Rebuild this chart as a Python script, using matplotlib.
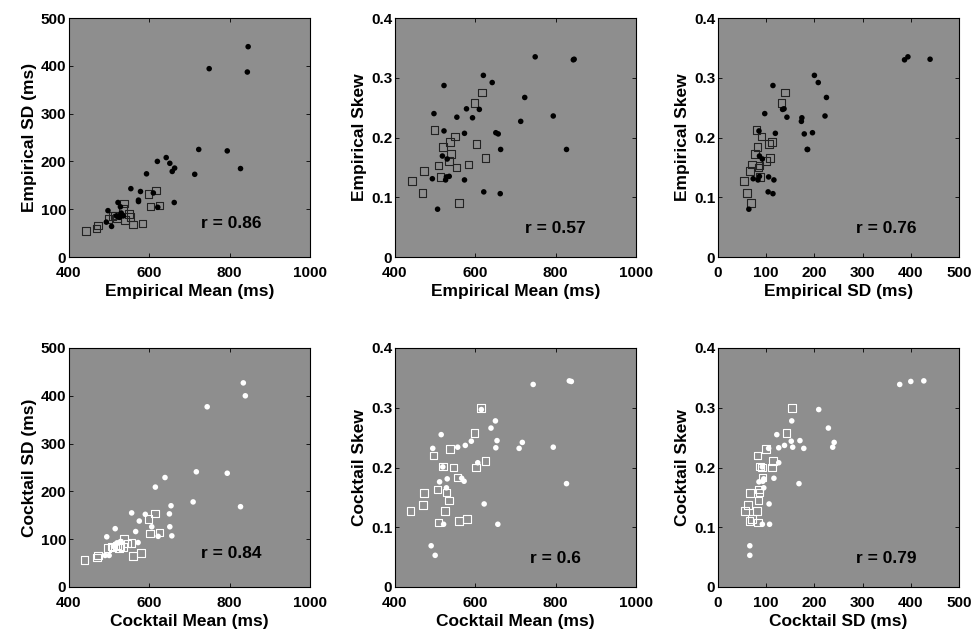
import matplotlib
matplotlib.use('Agg')
import matplotlib.pyplot as plt
import numpy as np

plt.rcParams['font.family'] = ['Liberation Sans', 'DejaVu Sans']
plt.rcParams['font.weight'] = 'bold'

# ---- empirical data: filled dots ----
emp_dot_mean = [493, 497, 506, 518, 522, 522, 526, 528, 530, 535, 554, 573, 573, 578, 593,
                610, 620, 621, 642, 651, 657, 662, 663, 713, 723, 749, 794, 827, 844, 846]
emp_dot_sd = [73, 97, 64, 86, 114, 85, 83, 105, 92, 86, 143, 119, 116, 137, 174,
              134, 200, 104, 208, 196, 179, 114, 186, 173, 225, 394, 222, 185, 387, 440]
emp_dot_skew = [.131, .240, .080, .169, .287, .211, .129, .134, .164, .135, .234, .207, .129, .248, .233,
                .247, .304, .109, .292, .208, .206, .106, .180, .227, .267, .335, .236, .180, .330, .331]

# ---- empirical data: open squares ----
emp_sq_mean = [442, 468, 472, 498, 508, 513, 520, 537, 540, 535, 549, 553, 560, 583, 598, 603, 616, 625]
emp_sq_sd = [54, 60, 66, 80, 86, 87, 82, 112, 77, 100, 90, 84, 68, 70, 132, 106, 139, 108]
emp_sq_skew = [.127, .107, .144, .213, .153, .134, .184, .192, .172, .161, .202, .150, .090, .155,
               .258, .189, .275, .166]

# ---- cocktail model: filled dots ----
ck_dot_mean = [744, 834, 839, 615, 650, 639, 515, 717, 794, 709, 654, 494, 556, 575, 590,
               651, 606, 519, 566, 530, 511, 572, 528, 622, 827, 521, 656, 490, 500]
ck_dot_sd = [377, 427, 400, 209, 153, 229, 122, 241, 238, 178, 170, 105, 155, 138, 152,
             126, 126, 92, 116, 95, 85, 93, 95, 106, 168, 92, 107, 66, 66]
ck_dot_skew = [.339, .345, .344, .297, .278, .266, .255, .242, .234, .232, .245, .232, .234, .237, .244,
               .233, .208, .201, .182, .181, .176, .177, .166, .139, .173, .105, .105, .069, .053]

# ---- cocktail model: open squares ----
ck_sq_mean = [439, 469, 472, 496, 506, 508, 519, 528, 525, 535, 537, 546, 556, 559, 579, 598, 614, 602, 625]
ck_sq_sd = [56, 62, 66, 82, 85, 83, 87, 86, 81, 84, 100, 91, 92, 65, 71, 142, 154, 112, 114]
ck_sq_skew = [.127, .137, .157, .220, .163, .108, .202, .158, .127, .145, .231, .200, .183, .110, .114,
              .258, .300, .200, .211]

r_values = ['0.86', '0.57', '0.76', '0.84', '0.6', '0.79']

bg = '#8e8e8e'
fig = plt.figure(figsize=(9.74, 6.36), dpi=100)

lefts = [69 / 974, 395 / 974, 718 / 974]
bottoms = [1 - 257 / 636, 1 - 587 / 636]
w, h = 241 / 974, 239 / 636

rows = [
    dict(dots=(emp_dot_mean, emp_dot_sd, emp_dot_skew), sqs=(emp_sq_mean, emp_sq_sd, emp_sq_skew),
         name='Empirical', col='k', sqedge='#222222'),
    dict(dots=(ck_dot_mean, ck_dot_sd, ck_dot_skew), sqs=(ck_sq_mean, ck_sq_sd, ck_sq_skew),
         name='Cocktail', col='white', sqedge='white'),
]

# panel definitions: (x index, y index, xlim, ylim, xticks, yticks, xlabel, ylabel)
panels = [
    (0, 1, (400, 1000), (0, 500), [400, 600, 800, 1000], [0, 100, 200, 300, 400, 500], 'Mean (ms)', 'SD (ms)'),
    (0, 2, (400, 1000), (0, 0.4), [400, 600, 800, 1000], [0, 0.1, 0.2, 0.3, 0.4], 'Mean (ms)', 'Skew'),
    (1, 2, (0, 500), (0, 0.4), [0, 100, 200, 300, 400, 500], [0, 0.1, 0.2, 0.3, 0.4], 'SD (ms)', 'Skew'),
]
r_pos = [(0.675, 0.14), (0.667, 0.12), (0.70, 0.12)]

k = 0
for ri, row in enumerate(rows):
    for pi, (xi, yi, xl, yl, xt, yt, xlab, ylab) in enumerate(panels):
        ax = fig.add_axes([lefts[pi], bottoms[ri], w, h])
        ax.set_facecolor(bg)
        ax.scatter(row['sqs'][xi], row['sqs'][yi], marker='s', s=30, facecolors='none',
                   edgecolors=row['sqedge'], linewidths=0.8, zorder=3)
        ax.scatter(row['dots'][xi], row['dots'][yi], marker='o', s=16, color=row['col'],
                   edgecolors='none', zorder=4)
        ax.set_xlim(*xl)
        ax.set_ylim(*yl)
        ax.set_xticks(xt)
        ax.set_yticks(yt)
        ax.set_xticklabels([f'{v:g}' for v in xt])
        ax.set_yticklabels([f'{v:g}' for v in yt])
        ax.tick_params(direction='in', top=True, right=True, length=3, width=0.6,
                       labelsize=11)
        ax.tick_params(axis='x', pad=6.5)
        ax.tick_params(axis='y', pad=2)
        for lab in ax.get_xticklabels() + ax.get_yticklabels():
            lab.set_fontweight('bold')
        for s in ax.spines.values():
            s.set_linewidth(0.8)
        ax.set_xlabel(row['name'] + ' ' + xlab, fontsize=12.5, fontweight='bold', labelpad=3)
        ax.set_ylabel(row['name'] + ' ' + ylab, fontsize=12.5, fontweight='bold', labelpad=3)
        ax.text(r_pos[pi][0], r_pos[pi][1], 'r = ' + r_values[k], transform=ax.transAxes,
                ha='center', va='center', fontsize=12.5, fontweight='bold', color='black')
        k += 1

fig.savefig('out.png', dpi=100, facecolor='white')
